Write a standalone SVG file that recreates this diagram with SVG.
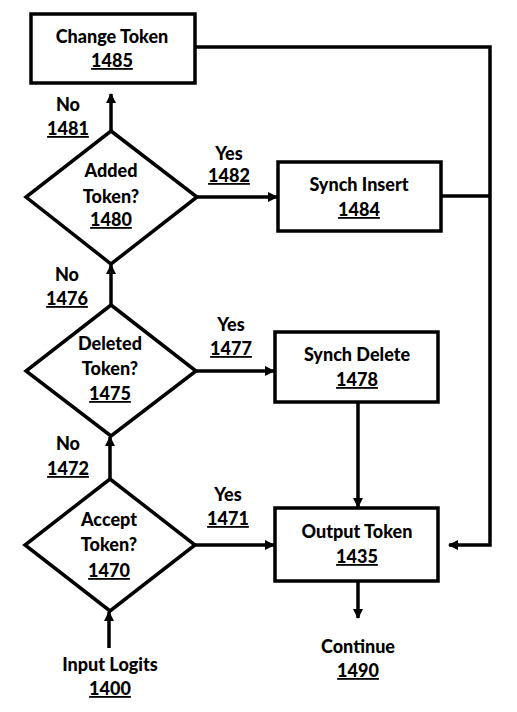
<svg xmlns="http://www.w3.org/2000/svg" width="517" height="712" viewBox="0 0 517 712">
<defs>
<marker id="ah" markerWidth="10" markerHeight="10" refX="9" refY="5" orient="auto" markerUnits="userSpaceOnUse">
<path d="M0,0 L10,5 L0,10 Z" fill="#000"/>
</marker>
<style>
.n{fill:#fff;stroke:#000;stroke-width:3.5}
.c{fill:none;stroke:#000;stroke-width:3.5}
text{font-family:Lato,"Liberation Sans",sans-serif;font-weight:900;font-size:18px;fill:#000;text-anchor:middle}
.u{text-decoration:underline}
</style>
</defs>
<rect width="517" height="712" fill="#fff"/>
<g id="connectors">
<path class="c" d="M195,47 H490 V545 H449" marker-end="url(#ah)"/>
<path class="c" d="M441,196 H490"/>
<path class="c" d="M111,131 V94" marker-end="url(#ah)"/>
<path class="c" d="M197,197 H277" marker-end="url(#ah)"/>
<path class="c" d="M111,305 V265" marker-end="url(#ah)"/>
<path class="c" d="M196,371 H274" marker-end="url(#ah)"/>
<path class="c" d="M358,402 V507" marker-end="url(#ah)"/>
<path class="c" d="M110,479 V437" marker-end="url(#ah)"/>
<path class="c" d="M195,545 H274" marker-end="url(#ah)"/>
<path class="c" d="M358,581 V618" marker-end="url(#ah)"/>
<path class="c" d="M109,648 V612" marker-end="url(#ah)"/>
<text x="68" y="111">No</text><text x="68" y="135" class="u">1481</text>
<text x="229" y="160">Yes</text><text x="229" y="182" class="u">1482</text>
<text x="67" y="281">No</text><text x="67" y="305" class="u">1476</text>
<text x="231" y="331">Yes</text><text x="231" y="355" class="u">1477</text>
<text x="68" y="450">No</text><text x="68" y="475" class="u">1472</text>
<text x="228" y="501">Yes</text><text x="228" y="525" class="u">1471</text>
</g>
<g id="change-token">
<rect class="n" x="31" y="14" width="164" height="69"/>
<text x="112" y="43">Change Token</text><text x="112" y="67" class="u">1485</text>
</g>
<g id="added-token">
<path class="n" d="M111,131 L197,197 L111,264 L26,197 Z"/>
<text x="111" y="177">Added</text><text x="111" y="203">Token?</text><text x="111" y="226" class="u">1480</text>
</g>
<g id="synch-insert">
<rect class="n" x="278" y="162" width="163" height="69"/>
<text x="359" y="191">Synch Insert</text><text x="359" y="216" class="u">1484</text>
</g>
<g id="deleted-token">
<path class="n" d="M111,305 L196,371 L111,436 L26,371 Z"/>
<text x="110" y="350">Deleted</text><text x="110" y="375">Token?</text><text x="110" y="400" class="u">1475</text>
</g>
<g id="synch-delete">
<rect class="n" x="275" y="332" width="163" height="70"/>
<text x="357" y="361">Synch Delete</text><text x="357" y="386" class="u">1478</text>
</g>
<g id="accept-token">
<path class="n" d="M110,479 L195,545 L110,611 L25,545 Z"/>
<text x="109" y="526">Accept</text><text x="109" y="551">Token?</text><text x="109" y="577" class="u">1470</text>
</g>
<g id="output-token">
<rect class="n" x="275" y="508" width="163" height="73"/>
<text x="357" y="538">Output Token</text><text x="357" y="563" class="u">1435</text>
</g>
<g id="continue">
<text x="358" y="653">Continue</text><text x="358" y="677" class="u">1490</text>
</g>
<g id="input-logits">
<text x="110" y="671">Input Logits</text><text x="110" y="695" class="u">1400</text>
</g>
</svg>
